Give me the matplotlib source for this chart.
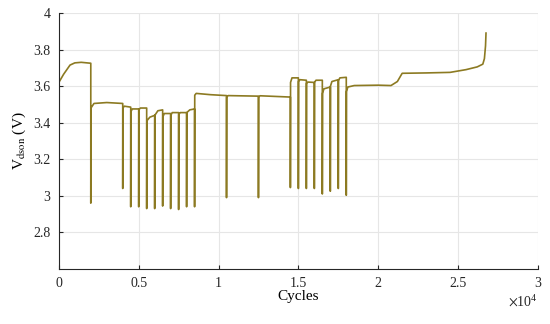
import matplotlib
matplotlib.use("Agg")
from matplotlib import pyplot as plt
from matplotlib.ticker import ScalarFormatter, FormatStrFormatter

# cycles (x1e4) and Vdson readings, taken off the reference trace
cycles_e4 = [
    0.00, 0.03, 0.07, 0.10, 0.14, 0.20,
    0.20, 0.201, 0.22, 0.30, 0.40,
    0.40, 0.401, 0.41, 0.45,
    0.45, 0.451, 0.46, 0.50,
    0.50, 0.501, 0.51, 0.55,
    0.55, 0.551, 0.57, 0.60,
    0.60, 0.601, 0.62, 0.65,
    0.65, 0.651, 0.66, 0.70,
    0.70, 0.701, 0.71, 0.75,
    0.75, 0.751, 0.76, 0.80,
    0.80, 0.801, 0.82, 0.85,
    0.85, 0.851, 0.86, 0.95, 1.05,
    1.05, 1.051, 1.06, 1.25,
    1.25, 1.251, 1.26, 1.45,
    1.45, 1.451, 1.46, 1.50,
    1.50, 1.501, 1.51, 1.55,
    1.55, 1.551, 1.56, 1.60,
    1.60, 1.601, 1.61, 1.65,
    1.65, 1.651, 1.66, 1.70,
    1.70, 1.701, 1.71, 1.75,
    1.75, 1.751, 1.76, 1.80,
    1.80, 1.801, 1.81, 1.85, 2.00, 2.08, 2.12, 2.15, 2.30, 2.45,
    2.55, 2.62, 2.655, 2.665, 2.672, 2.675,
]
vdson = [
    3.62, 3.665, 3.715, 3.727, 3.73, 3.725,
    2.96, 3.48, 3.505, 3.51, 3.505,
    3.04, 3.48, 3.49, 3.485,
    2.94, 3.46, 3.475, 3.475,
    2.94, 3.47, 3.48, 3.48,
    2.93, 3.41, 3.43, 3.44,
    2.93, 3.44, 3.465, 3.47,
    2.944, 3.43, 3.45, 3.45,
    2.93, 3.44, 3.455, 3.455,
    2.925, 3.445, 3.455, 3.455,
    2.94, 3.455, 3.47, 3.475,
    2.94, 3.55, 3.56, 3.553, 3.548,
    2.99, 3.54, 3.548, 3.545,
    2.99, 3.54, 3.547, 3.54,
    3.045, 3.62, 3.645, 3.645,
    3.04, 3.625, 3.635, 3.632,
    3.04, 3.615, 3.622, 3.62,
    3.04, 3.62, 3.632, 3.632,
    3.01, 3.56, 3.585, 3.595,
    3.025, 3.60, 3.625, 3.635,
    3.04, 3.63, 3.645, 3.648,
    3.003, 3.57, 3.595, 3.603, 3.605, 3.603, 3.625, 3.67, 3.672, 3.675,
    3.69, 3.705, 3.72, 3.75, 3.82, 3.89,
]
cycles = [c * 1e4 for c in cycles_e4]

xticks = [0, 5000, 10000, 15000, 20000, 25000, 30000]
yticks = [2.8, 3.0, 3.2, 3.4, 3.6, 3.8, 4.0]


# matlab-like tick labels: 0, 0.5, 1 ... with a x10^4 offset
class SciFormatter(ScalarFormatter):
    def _set_format(self):
        self.format = "%g"


plt.rcParams["font.family"] = ["Liberation Serif", "DejaVu Serif"]
plt.rcParams["mathtext.fontset"] = "stix"

fig, ax = plt.subplots(figsize=(5.5, 3.24), dpi=100)
fig.subplots_adjust(left=0.107, right=0.978, top=0.96, bottom=0.17)

ax.plot(cycles, vdson, color="#8C7A22", lw=1.2)

ax.set_xlim(0, 30000)
ax.set_ylim(2.6, 4.0)
ax.set_xticks(xticks)
ax.set_yticks(yticks)
ax.yaxis.set_major_formatter(FormatStrFormatter("%g"))
fmt = SciFormatter(useMathText=True)
fmt.set_powerlimits((0, 0))
ax.xaxis.set_major_formatter(fmt)
ax.xaxis.get_offset_text().set_fontsize(10)

ax.grid(True, color="#e6e6e6", lw=0.8)
ax.set_axisbelow(True)
for s in ["top", "right"]:
    ax.spines[s].set_visible(False)
for s in ["left", "bottom"]:
    ax.spines[s].set_color("#262626")
    ax.spines[s].set_linewidth(0.8)
ax.tick_params(direction="in", length=3, labelsize=10, colors="#262626", pad=6)

ax.set_xlabel("Cycles", fontsize=11, labelpad=0)
ax.set_ylabel(r"V$_{\mathrm{dson}}$ (V)", fontsize=11, labelpad=4)

plt.savefig("out.png")
